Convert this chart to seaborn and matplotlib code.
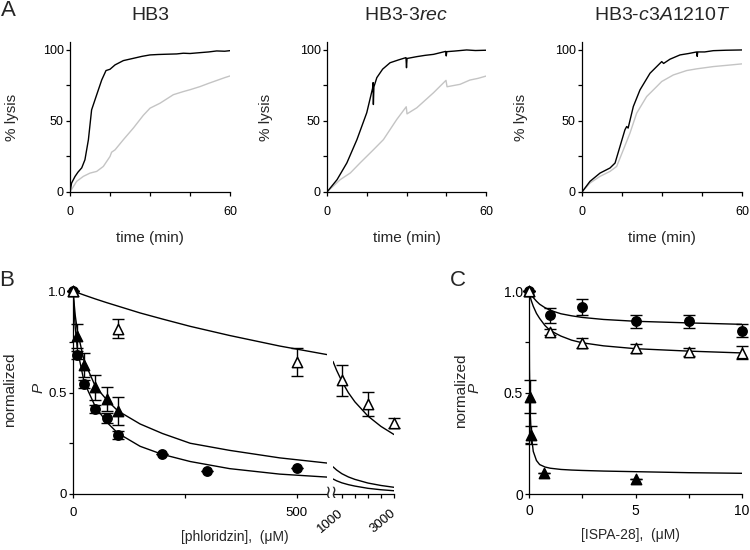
import matplotlib
matplotlib.use("Agg")
import matplotlib.pyplot as plt
import seaborn as sns

# ---- panel A: lysis kinetics, time (min) vs % lysis ----
hb3_black_t = [0, 0.6, 1.9, 3, 4.4, 5.6, 6.9, 8.1, 10, 11.9, 13.5, 15, 16.9, 20, 23.75, 27, 30, 33,
               36.25, 40, 42.5, 45, 48.75, 52, 55, 58, 60]
hb3_black = [0, 6.3, 11, 14, 17, 22.7, 36.8, 57.8, 68.4, 78.9, 85.5, 86.4, 89.5, 92.5, 94.1, 95.5, 96.5,
             96.8, 97, 97.2, 97.7, 97.5, 98.1, 98.6, 99.3, 99.1, 99.5]
hb3_gray_t = [0, 2.5, 5, 7.5, 10, 12.5, 15, 15.6, 16.9, 20, 23.75, 27.5, 30, 33.75, 38.75, 42.5, 45,
              48.75, 52, 55, 58, 60]
hb3_gray = [0, 7.5, 11, 13.3, 14.5, 18, 25, 28, 29.7, 36.8, 45, 54, 59, 62.5, 68.5, 70.7, 72, 74.2,
            76.5, 78.5, 80.5, 81.7]

rec_black_t = [0, 3.8, 7.5, 11.3, 15, 17.2, 17.4, 17.5, 17.7, 18.8, 21, 23.8, 27, 29.8, 30, 30.2, 33.9,
               37, 40.2, 44.8, 45, 45.2, 48, 52.7, 56, 60]
rec_black = [0, 8.7, 20.5, 36.9, 55.8, 73, 77, 61.6, 74, 80.5, 86.5, 91, 93, 94.6, 87.5, 94, 95.3,
             96.2, 96.9, 99.0, 95.8, 98.8, 99.2, 100, 99.6, 99.8]
rec_gray_t = [0, 5, 8.8, 12.5, 17.6, 21.3, 26.3, 29.9, 30.2, 33.9, 40.2, 44.9, 45.3, 50.2, 53.9, 57, 60]
rec_gray = [0, 8.7, 13.4, 20.5, 29.9, 36.9, 51, 60, 55, 59.3, 69.9, 78.6, 74.1, 75.8, 78.8, 80, 81.6]

c3a_black_t = [0, 3, 6.75, 10.5, 12.4, 14.25, 16.1, 16.75, 17.3, 19.25, 21.75, 25.5, 29.25, 29.9, 30.6,
               33, 36.75, 40, 43, 43.2, 43.4, 46, 49.25, 54, 60]
c3a_black = [0, 7.5, 13.3, 16.9, 20.4, 32.1, 43.8, 46.1, 45, 60.2, 71.9, 83.6, 90.6, 91.8, 90.5, 93.5,
             96.5, 97.5, 98.6, 95.5, 98.6, 98.6, 99.5, 99.8, 100]
c3a_gray_t = [0, 3, 6.75, 10.5, 13, 15.5, 18, 20.5, 24.25, 28, 29.9, 34.25, 39.25, 43, 49.25, 55, 60]
c3a_gray = [0, 6.3, 11, 14.5, 18, 29.7, 41.5, 55.5, 67.2, 74.2, 77.8, 82.4, 85.5, 86.7, 88.3, 89.3, 90.2]

# ---- panel B: phloridzin (uM) vs normalized P ----
phl_circ_x = [0, 10, 25, 50, 75, 100, 200, 300, 500]
phl_circ = [1.0, 0.685, 0.542, 0.42, 0.375, 0.29, 0.195, 0.115, 0.13]
phl_circ_err = [0, 0.02, 0.02, 0.02, 0.025, 0.02, 0, 0, 0]
phl_ftri_x = [0, 10, 25, 50, 75, 100]
phl_ftri = [1.0, 0.78, 0.635, 0.525, 0.468, 0.41]
phl_ftri_err = [0, 0.06, 0.06, 0.06, 0.06, 0.07]
phl_otri_x = [0, 100, 500, 1000, 2000, 3000]
phl_otri = [1.0, 0.815, 0.65, 0.56, 0.445, 0.35]
phl_otri_err = [0, 0.045, 0.07, 0.075, 0.06, 0.025]

fitb_x_left = [0, 5, 10, 25, 50, 75, 100, 150, 200, 262, 350, 462, 570]
fitb_otri_left = [1.0, 0.996, 0.992, 0.980, 0.961, 0.943, 0.926, 0.892, 0.862, 0.826, 0.781, 0.729, 0.686]
fitb_ftri_left = [1.0, 0.88, 0.80, 0.655, 0.53, 0.465, 0.41, 0.345, 0.298, 0.25, 0.215, 0.178, 0.152]
fitb_circ_left = [1.0, 0.82, 0.71, 0.55, 0.43, 0.355, 0.30, 0.235, 0.195, 0.16, 0.125, 0.098, 0.083]
fitb_x_right = [660, 800, 1000, 1250, 1500, 2000, 2500, 3000]
fitb_otri_right = [0.653, 0.609, 0.555, 0.499, 0.454, 0.384, 0.333, 0.293]
fitb_ftri_right = [0.134, 0.118, 0.10, 0.084, 0.072, 0.054, 0.042, 0.033]
fitb_circ_right = [0.074, 0.065, 0.055, 0.046, 0.039, 0.028, 0.021, 0.016]

# ---- panel C: ISPA-28 (uM) vs normalized P ----
ispa_x = [0, 1, 2.5, 5, 7.5, 10]
ispa_circ = [1.0, 0.88, 0.92, 0.85, 0.85, 0.805]
ispa_circ_err = [0, 0.035, 0.04, 0.03, 0.03, 0.032]
ispa_otri = [1.0, 0.80, 0.742, 0.718, 0.70, 0.696]
ispa_otri_err = [0, 0.015, 0.025, 0.022, 0.02, 0.033]
ispa_ftri_x = [0, 0.025, 0.1, 0.7, 5]
ispa_ftri = [1.0, 0.48, 0.29, 0.105, 0.072]
ispa_ftri_err = [0, 0.08, 0.045, 0, 0]

fitc_x = [0, 0.02, 0.05, 0.1, 0.2, 0.35, 0.5, 0.75, 1, 1.5, 2, 2.5, 3.5, 5, 7.5, 10]
fitc_circ = [1.0, 0.997, 0.99, 0.982, 0.968, 0.95, 0.935, 0.918, 0.905, 0.888, 0.878, 0.87, 0.86,
             0.851, 0.843, 0.836]
fitc_otri = [1.0, 0.99, 0.975, 0.955, 0.925, 0.89, 0.865, 0.83, 0.805, 0.778, 0.758, 0.745, 0.73,
             0.716, 0.704, 0.695]
fitc_ftri = [1.0, 0.62, 0.42, 0.30, 0.21, 0.165, 0.145, 0.133, 0.127, 0.121, 0.118, 0.116, 0.113,
             0.110, 0.105, 0.102]

W, H = 750, 550
GRAY = "#c4c4c4"


def box(left, top, right, bottom):
    return [left / W, 1 - bottom / H, (right - left) / W, (bottom - top) / H]


def label(fig, x, y, s, **kw):
    fig.text(x / W, 1 - y / H, s, ha="center", va="center", **kw)


def style_axes(ax, xticks, xlabels, yticks, ylabels, size, xpad):
    ax.set_xticks(xticks)
    ax.set_xticklabels(xlabels)
    ax.set_yticks(yticks)
    ax.set_yticklabels(ylabels)
    ax.tick_params(direction="out", length=3, width=0.9, labelsize=size, colors="black")
    ax.tick_params(axis="x", pad=xpad)
    ax.tick_params(axis="y", pad=1.5)
    for s in ax.spines.values():
        s.set_linewidth(0.9)
        s.set_color("black")
    sns.despine(ax=ax)
    ax.set_xlabel("")
    ax.set_ylabel("")


def trace(ax, x, y, color):
    sns.lineplot(x=x, y=y, ax=ax, color=color, lw=1.0, estimator=None, sort=False)


def points(ax, x, y, err, marker, filled, size):
    ax.errorbar(x, y, yerr=err, fmt="none", ecolor="black", elinewidth=1.0,
                capsize=4, capthick=1.0, zorder=3, clip_on=False)
    sns.scatterplot(x=x, y=y, ax=ax, marker=marker, s=size,
                    color="black" if filled else "white", edgecolor="black",
                    linewidth=1.1, zorder=4, clip_on=False, legend=False)


sns.set_style("ticks")
plt.rcParams["font.family"] = ["Liberation Sans", "DejaVu Sans"]
plt.rcParams["mathtext.fontset"] = "custom"
plt.rcParams["mathtext.it"] = "Liberation Sans:italic"
plt.rcParams["mathtext.rm"] = "Liberation Sans"

fig = plt.figure(figsize=(7.5, 5.5), dpi=100)

# ---------------- panel A ----------------
a_panels = [
    ((70, 230), "HB3", hb3_black_t, hb3_black, hb3_gray_t, hb3_gray, 12),
    ((327, 486), r"HB3-$\mathit{3rec}$", rec_black_t, rec_black, rec_gray_t, rec_gray, 266),
    ((582, 742), r"HB3-$\mathit{c3A1210T}$", c3a_black_t, c3a_black, c3a_gray_t, c3a_gray, 521),
]
for (left, right), title, bt, bv, gt, gv, ylab_x in a_panels:
    ax = fig.add_axes(box(left, 42, right, 192))
    trace(ax, gt, gv, GRAY)
    trace(ax, bt, bv, "black")
    ax.set_xlim(0, 60)
    ax.set_ylim(0, 105.6)
    style_axes(ax, [0, 15, 30, 45, 60], ["0", "", "", "", "60"],
               [0, 25, 50, 75, 100], ["0", "", "50", "", "100"], 9, 7)
    cx = (left + right) / 2
    label(fig, cx, 16, title, fontsize=14)
    label(fig, cx, 238, "time (min)", fontsize=11)
    label(fig, ylab_x, 117, "% lysis", fontsize=11, rotation=90)

label(fig, 8, 10, "A", fontsize=16)

# ---------------- panel B ----------------
axl = fig.add_axes(box(73, 289, 327, 494))
axr = fig.add_axes(box(333, 289, 394, 494))
for ax, fx, fo, ft, fc in [(axl, fitb_x_left, fitb_otri_left, fitb_ftri_left, fitb_circ_left),
                           (axr, fitb_x_right, fitb_otri_right, fitb_ftri_right, fitb_circ_right)]:
    trace(ax, fx, fo, "black")
    trace(ax, fx, ft, "black")
    trace(ax, fx, fc, "black")
    ax.set_ylim(0, 1.01)

points(axl, phl_circ_x, phl_circ, phl_circ_err, "o", True, 45)
points(axl, phl_ftri_x, phl_ftri, phl_ftri_err, "^", True, 55)
otri_left = [i for i, v in enumerate(phl_otri_x) if v <= 500]
otri_right = [i for i, v in enumerate(phl_otri_x) if v >= 1000]
points(axl, [phl_otri_x[i] for i in otri_left], [phl_otri[i] for i in otri_left],
       [phl_otri_err[i] for i in otri_left], "^", False, 55)
points(axr, [phl_otri_x[i] for i in otri_right], [phl_otri[i] for i in otri_right],
       [phl_otri_err[i] for i in otri_right], "^", False, 55)

axl.set_xlim(0, 567.8)
style_axes(axl, [0, 250, 500], ["0", "", "500"], [0, 0.25, 0.5, 0.75, 1.0],
           ["0", "", "0.5", "", "1.0"], 9.5, 6)
axr.set_xlim(660, 3000)
style_axes(axr, [1000, 1500, 2000, 2500, 3000], ["1000", "", "", "", "3000"], [], [], 9.5, 10)
sns.despine(ax=axr, left=True)
axr.patch.set_alpha(0)
for t in axr.get_xticklabels():
    t.set_rotation(40)
    t.set_ha("right")
    t.set_va("center")
    t.set_rotation_mode("anchor")

label(fig, 330.5, 493, "\u2240\u2240", fontsize=13, family="DejaVu Sans")
label(fig, 235, 537, "[phloridzin],  (\u03bcM)", fontsize=10)
label(fig, 10, 390, "normalized", fontsize=11, rotation=90)
label(fig, 39, 388, "P", fontsize=11, rotation=90, style="italic")
label(fig, 7, 281, "B", fontsize=16)

# ---------------- panel C ----------------
axc = fig.add_axes(box(529, 288, 742, 494))
trace(axc, fitc_x, fitc_circ, "black")
trace(axc, fitc_x, fitc_otri, "black")
trace(axc, fitc_x, fitc_ftri, "black")
points(axc, ispa_x, ispa_circ, ispa_circ_err, "o", True, 45)
points(axc, ispa_ftri_x, ispa_ftri, ispa_ftri_err, "^", True, 55)
points(axc, ispa_x, ispa_otri, ispa_otri_err, "^", False, 55)
axc.set_xlim(0, 10)
axc.set_ylim(0, 1.015)
style_axes(axc, [0, 2.5, 5, 7.5, 10], ["0", "", "5", "", "10"], [0, 0.25, 0.5, 0.75, 1.0],
           ["0", "", "0.5", "", "1.0"], 10, 4)

label(fig, 630, 535, "[ISPA-28],  (\u03bcM)", fontsize=10)
label(fig, 461, 391, "normalized", fontsize=11, rotation=90)
label(fig, 475, 388, "P", fontsize=11, rotation=90, style="italic")
label(fig, 458, 281, "C", fontsize=16)

fig.savefig("out.png", dpi=100)
